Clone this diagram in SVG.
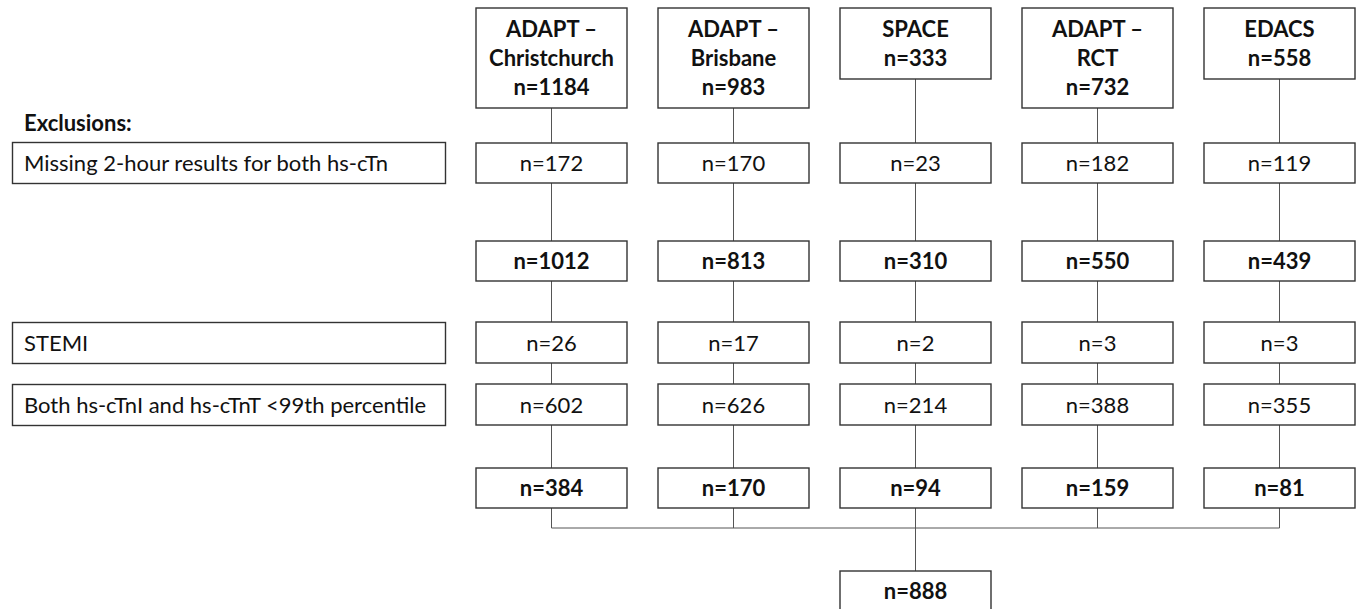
<svg xmlns="http://www.w3.org/2000/svg" width="1357" height="609" viewBox="0 0 1357 609">
<style>
.box{fill:#fff;stroke:#333;stroke-width:1.4}
.t{font-family:Lato,"Liberation Sans",sans-serif;font-size:22px;fill:#111;text-anchor:middle}
.b{font-weight:bold}
.l{text-anchor:start}
.c{stroke:#555;stroke-width:1;fill:none}
</style>
<rect width="1357" height="609" fill="#fff"/>
<g id="connectors">
<path class="c" d="M551.5 108V468M733.5 108V468M915.5 79V571M1097.5 108V468M1279.5 79V468"/>
<path class="c" d="M551.5 508V528H1279.5V508M733.5 508V528M1097.5 508V528"/>
</g>
<text class="t b l" x="24" y="131">Exclusions:</text>
<g id="excl-missing"><rect class="box" x="12.5" y="142.5" width="433" height="41"/><text class="t l" x="24" y="171">Missing 2-hour results for both hs-cTn</text></g>
<g id="excl-stemi"><rect class="box" x="12.5" y="322.5" width="433" height="41"/><text class="t l" x="24" y="351">STEMI</text></g>
<g id="excl-both"><rect class="box" x="12.5" y="384.5" width="433" height="41"/><text class="t l" x="24" y="413">Both hs-cTnI and hs-cTnT &lt;99th percentile</text></g>

<g id="src-chch"><rect class="box" x="476" y="8" width="151" height="100"/><text class="t b" x="551.5" y="37">ADAPT –</text><text class="t b" x="551.5" y="66">Christchurch</text><text class="t b" x="551.5" y="95">n=1184</text></g>
<g id="src-bris"><rect class="box" x="658" y="8" width="151" height="100"/><text class="t b" x="733.5" y="37">ADAPT –</text><text class="t b" x="733.5" y="66">Brisbane</text><text class="t b" x="733.5" y="95">n=983</text></g>
<g id="src-space"><rect class="box" x="840" y="8" width="151" height="71"/><text class="t b" x="915.5" y="37">SPACE</text><text class="t b" x="915.5" y="66">n=333</text></g>
<g id="src-rct"><rect class="box" x="1022" y="8" width="151" height="100"/><text class="t b" x="1097.5" y="37">ADAPT –</text><text class="t b" x="1097.5" y="66">RCT</text><text class="t b" x="1097.5" y="95">n=732</text></g>
<g id="src-edacs"><rect class="box" x="1204" y="8" width="151" height="71"/><text class="t b" x="1279.5" y="37">EDACS</text><text class="t b" x="1279.5" y="66">n=558</text></g>

<g id="r2-1"><rect class="box" x="476" y="143" width="151" height="40"/><text class="t" x="551.5" y="171">n=172</text></g>
<g id="r2-2"><rect class="box" x="658" y="143" width="151" height="40"/><text class="t" x="733.5" y="171">n=170</text></g>
<g id="r2-3"><rect class="box" x="840" y="143" width="151" height="40"/><text class="t" x="915.5" y="171">n=23</text></g>
<g id="r2-4"><rect class="box" x="1022" y="143" width="151" height="40"/><text class="t" x="1097.5" y="171">n=182</text></g>
<g id="r2-5"><rect class="box" x="1204" y="143" width="151" height="40"/><text class="t" x="1279.5" y="171">n=119</text></g>

<g id="r3-1"><rect class="box" x="476" y="241" width="151" height="40"/><text class="t b" x="551.5" y="269">n=1012</text></g>
<g id="r3-2"><rect class="box" x="658" y="241" width="151" height="40"/><text class="t b" x="733.5" y="269">n=813</text></g>
<g id="r3-3"><rect class="box" x="840" y="241" width="151" height="40"/><text class="t b" x="915.5" y="269">n=310</text></g>
<g id="r3-4"><rect class="box" x="1022" y="241" width="151" height="40"/><text class="t b" x="1097.5" y="269">n=550</text></g>
<g id="r3-5"><rect class="box" x="1204" y="241" width="151" height="40"/><text class="t b" x="1279.5" y="269">n=439</text></g>

<g id="r4-1"><rect class="box" x="476" y="322" width="151" height="41"/><text class="t" x="551.5" y="351">n=26</text></g>
<g id="r4-2"><rect class="box" x="658" y="322" width="151" height="41"/><text class="t" x="733.5" y="351">n=17</text></g>
<g id="r4-3"><rect class="box" x="840" y="322" width="151" height="41"/><text class="t" x="915.5" y="351">n=2</text></g>
<g id="r4-4"><rect class="box" x="1022" y="322" width="151" height="41"/><text class="t" x="1097.5" y="351">n=3</text></g>
<g id="r4-5"><rect class="box" x="1204" y="322" width="151" height="41"/><text class="t" x="1279.5" y="351">n=3</text></g>

<g id="r5-1"><rect class="box" x="476" y="384" width="151" height="41"/><text class="t" x="551.5" y="413">n=602</text></g>
<g id="r5-2"><rect class="box" x="658" y="384" width="151" height="41"/><text class="t" x="733.5" y="413">n=626</text></g>
<g id="r5-3"><rect class="box" x="840" y="384" width="151" height="41"/><text class="t" x="915.5" y="413">n=214</text></g>
<g id="r5-4"><rect class="box" x="1022" y="384" width="151" height="41"/><text class="t" x="1097.5" y="413">n=388</text></g>
<g id="r5-5"><rect class="box" x="1204" y="384" width="151" height="41"/><text class="t" x="1279.5" y="413">n=355</text></g>

<g id="r6-1"><rect class="box" x="476" y="468" width="151" height="40"/><text class="t b" x="551.5" y="496">n=384</text></g>
<g id="r6-2"><rect class="box" x="658" y="468" width="151" height="40"/><text class="t b" x="733.5" y="496">n=170</text></g>
<g id="r6-3"><rect class="box" x="840" y="468" width="151" height="40"/><text class="t b" x="915.5" y="496">n=94</text></g>
<g id="r6-4"><rect class="box" x="1022" y="468" width="151" height="40"/><text class="t b" x="1097.5" y="496">n=159</text></g>
<g id="r6-5"><rect class="box" x="1204" y="468" width="151" height="40"/><text class="t b" x="1279.5" y="496">n=81</text></g>

<g id="final"><rect class="box" x="840" y="571" width="151" height="50"/><text class="t b" x="915.5" y="599">n=888</text></g>
</svg>
